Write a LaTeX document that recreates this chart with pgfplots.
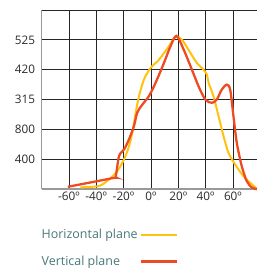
\documentclass[border=0pt]{standalone}
\usepackage{fontspec}
\setmainfont{Open Sans}
\usepackage{pgfplots}
\pgfplotsset{compat=1.18}
\definecolor{hyel}{HTML}{FFC20E}
\definecolor{vred}{HTML}{EE4B23}
\definecolor{legtxt}{HTML}{4A7878}
\definecolor{ticktxt}{HTML}{2A2A2A}
\begin{document}
\begin{tikzpicture}
\begin{axis}[
  at={(0,0)}, anchor=south west,
  scale only axis,
  width=216.3pt, height=180pt,
  xmin=-80, xmax=77.5, ymin=0, ymax=6,
  axis x line*=bottom, axis y line*=left,
  axis line style={draw=gray!80, line width=1.4pt},
  xtick={-60,-40,-20,0,20,40,60},
  xticklabels={-60º,-40º,-20º,0º,20º,40º,60º},
  ytick={1,2,3,4,5},
  yticklabels={400,800,315,420,525},
  extra y ticks={6},
  extra y tick labels={},
  extra y tick style={grid=major},
  major tick length=0pt,
  grid=major,
  grid style={black!85, line width=0.7pt},
  tick label style={font=\fontsize{11.8}{12}\selectfont, text=ticktxt},
  xticklabel style={yshift=1pt},
  yticklabel style={xshift=-3pt},
  clip=false,
  legend style={draw=none, fill=none, at={(-2pt,-38pt)}, anchor=north west,
    font=\fontsize{12.5}{14}\selectfont, text=legtxt,
    row sep=12pt, inner sep=0pt},
  legend cell align=left,
  legend plot pos=right,
  legend image code/.code={\draw[#1] (4pt,0pt) -- (40pt,0pt);},
]
\addplot[hyel, line width=2pt, smooth, tension=0.5] coordinates {
(-51.5,0.06) (-37.8,0.11) (-30.5,0.33) (-24.5,0.61) (-19.6,1.0) (-16,1.44)
(-13.6,1.89) (-11.1,2.56) (-8.7,3.11) (-5.1,3.67) (-0.2,4.06) (5.8,4.33)
(13.1,4.78) (18,5.11) (22.8,5.0) (28.9,4.56) (33.7,4.22) (38.5,4.0)
(41,3.83) (42.2,3.56) (45.8,3.11) (49.5,2.44) (53.1,1.78) (56.7,1.22)
(61.6,0.83) (67.6,0.44) (73.7,0.17) (77.5,0.02)};
\addlegendentry{Horizontal plane}
\addplot[vred, line width=2.3pt, smooth, tension=0.5] coordinates {
(-60.8,0.08) (-28.1,0.37) (-25.7,0.44) (-23.3,1.11) (-19.6,1.33) (-16,1.67)
(-12.4,2.11) (-10,2.56) (-6.3,2.83) (-1.5,3.11) (3.4,3.56) (9.5,4.22)
(14.3,4.78) (18.7,5.13) (24,4.67) (30,4.0) (34.9,3.44) (39.8,3.0)
(44.6,2.89) (48.2,3.0) (51.8,3.33) (55.5,3.5) (58,3.33) (60.4,2.44)
(62.8,1.56) (66.4,0.78) (70,0.28) (73.7,0.06) (77.5,0.0)};
\addlegendentry{Vertical plane}
\end{axis}
\path[use as bounding box] (-41.7pt,-79pt) rectangle (216.3pt,190pt);
\end{tikzpicture}
\end{document}
